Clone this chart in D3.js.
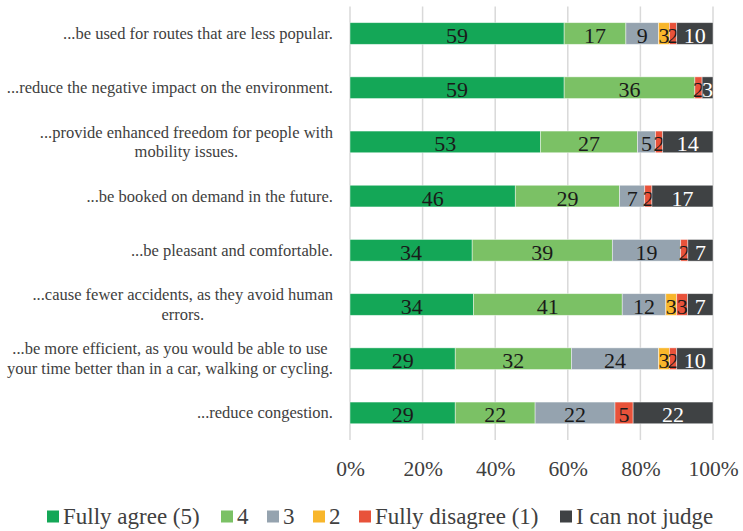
<!DOCTYPE html>
<html>
<head>
<meta charset="utf-8">
<script src="https://cdn.jsdelivr.net/npm/d3@7"></script>
<style>
  html, body { margin: 0; padding: 0; background: #fff; }
  svg { display: block; }
  svg text { font-family: "Liberation Serif", "Times New Roman", Times, serif; }
</style>
</head>
<body>
<svg id="chart" width="743" height="531"></svg>
<script>
// Statements (wrapped lines of each category label)
const categories = [
  ["...be used for routes that are less popular."],
  ["...reduce the negative impact on the environment."],
  ["...provide enhanced freedom for people with", "mobility issues."],
  ["...be booked on demand in the future."],
  ["...be pleasant and comfortable."],
  ["...cause fewer accidents, as they avoid human", "errors."],
  ["...be more efficient, as you would be able to use", "your time better than in a car, walking or cycling."],
  ["...reduce congestion."]
];

// Answer levels (series) and their colours
const seriesNames = ["Fully agree (5)", "4", "3", "2", "Fully disagree (1)", "I can not judge"];
const seriesColors = ["#14a757", "#7bc165", "#95a3af", "#f8b62b", "#e8523a", "#3f4244"];

// Share of answers per statement, in percent, one array per series
const fullyAgree    = [59, 59, 53, 46, 34, 34, 29, 29];
const agree4        = [17, 36, 27, 29, 39, 41, 32, 22];
const neutral3      = [ 9,  0,  5,  7, 19, 12, 24, 22];
const disagree2     = [ 3,  0,  0,  0,  0,  3,  3,  0];
const fullyDisagree = [ 2,  2,  2,  2,  2,  3,  2,  5];
const cannotJudge   = [10,  3, 14, 17,  7,  7, 10, 22];

const tickValues = [0, 0.2, 0.4, 0.6, 0.8, 1.0];

const seriesValues = [fullyAgree, agree4, neutral3, disagree2, fullyDisagree, cannotJudge];
const rows = categories.map((c, i) => {
  const r = { idx: i };
  seriesNames.forEach((s, j) => { r[s] = seriesValues[j][i]; });
  return r;
});

const svg = d3.select("#chart");

const plot = { left: 350, right: 713, top: 6.4, bottom: 440 };

const x = d3.scaleLinear().domain([0, 1]).range([plot.left, plot.right]);
const y = d3.scaleBand().domain(d3.range(categories.length))
  .range([plot.top, plot.bottom]).paddingInner(0.6).paddingOuter(0.3);
const color = d3.scaleOrdinal().domain(seriesNames).range(seriesColors);

const stack = d3.stack().keys(seriesNames).offset(d3.stackOffsetExpand);
const layers = stack(rows);

// Vertical gridlines
svg.append("g")
  .selectAll("line")
  .data(tickValues)
  .join("line")
  .attr("x1", d => x(d)).attr("x2", d => x(d))
  .attr("y1", plot.top).attr("y2", plot.bottom)
  .attr("stroke", "#d9d9d9").attr("stroke-width", 1.5);

// Bars
const layerG = svg.append("g").selectAll("g")
  .data(layers)
  .join("g")
  .attr("fill", d => color(d.key));

layerG.selectAll("rect")
  .data(d => d.map(p => Object.assign(p, { key: d.key })))
  .join("rect")
  .attr("x", d => x(d[0]))
  .attr("width", d => Math.max(0, x(d[1]) - x(d[0])))
  .attr("y", d => y(d.data.idx))
  .attr("height", y.bandwidth())
  .attr("stroke", "#ffffff")
  .attr("stroke-opacity", 0.55)
  .attr("stroke-width", 0.8);

// Value labels
layerG.selectAll("text")
  .data(d => d.filter(p => p.data[d.key] > 0))
  .join("text")
  .attr("x", d => (x(d[0]) + x(d[1])) / 2)
  .attr("y", d => y(d.data.idx) + y.bandwidth() / 2 + 9.5)
  .attr("text-anchor", "middle")
  .attr("font-size", 22)
  .attr("fill", d => d.key === "I can not judge" ? "#ffffff" : "#1a1a1a")
  .text(d => d.data[d.key]);

// Category labels (wrapped lines centred within a right-aligned block)
const labelRight = 333;
const lineH = 19.5;
const catG = svg.append("g");
categories.forEach((lines, i) => {
  const g = catG.append("g");
  const cy = y(i) + y.bandwidth() / 2;
  const texts = lines.map((ln, k) => g.append("text")
    .attr("font-size", 16.5)
    .attr("fill", "#404040")
    .attr("text-anchor", "middle")
    .attr("y", cy + (k - (lines.length - 1) / 2) * lineH)
    .attr("dy", "0.33em")
    .text(ln));
  const maxW = d3.max(texts, t => t.node().getComputedTextLength());
  texts.forEach(t => t.attr("x", labelRight - maxW / 2));
});

// Percentage axis
const axis = d3.axisBottom(x).tickValues(tickValues)
  .tickFormat(d3.format(".0%")).tickSize(0).tickPadding(0);
const axisG = svg.append("g").attr("transform", `translate(0,${plot.bottom})`).call(axis);
axisG.select(".domain").remove();
axisG.attr("font-family", null);
axisG.selectAll("text")
  .attr("y", 36).attr("dy", 0)
  .attr("font-size", 21.5).attr("fill", "#404040");

// Legend
const legendX = [47, 221, 267, 313, 359, 560];
const legend = svg.append("g").selectAll("g")
  .data(seriesNames)
  .join("g")
  .attr("transform", (d, i) => `translate(${legendX[i]},516.5)`);
legend.append("rect")
  .attr("x", 0).attr("y", -6).attr("width", 12).attr("height", 12)
  .attr("fill", d => color(d));
legend.append("text")
  .attr("x", 16).attr("y", 7)
  .attr("font-size", 23).attr("fill", "#404040")
  .text(d => d);
</script>
</body>
</html>
